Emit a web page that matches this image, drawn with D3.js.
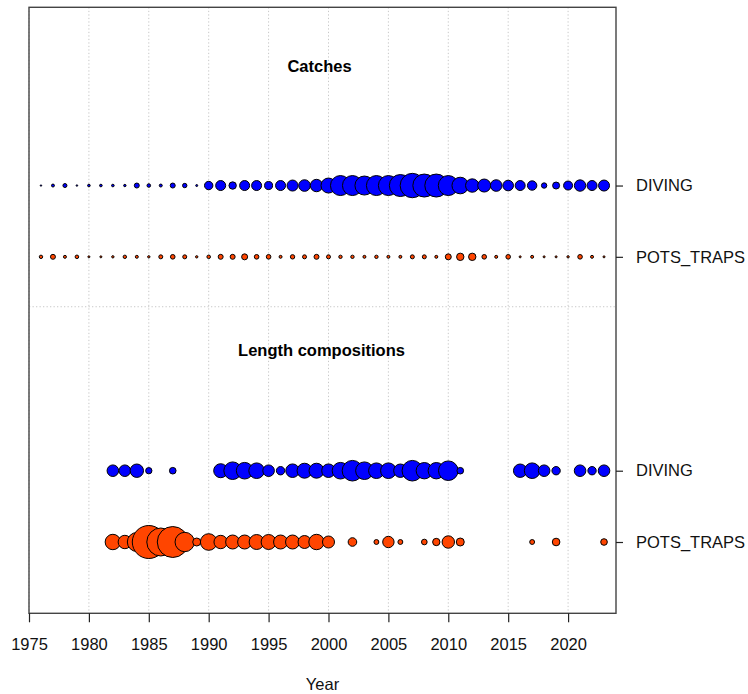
<!DOCTYPE html>
<html>
<head>
<meta charset="utf-8">
<script src="https://cdn.jsdelivr.net/npm/d3@7"></script>
<style>
  html, body { margin: 0; padding: 0; background: #fff; }
  svg { display: block; font-family: "Liberation Sans", Arial, sans-serif; }
</style>
</head>
<body>
<svg id="chart" width="748" height="694"></svg>
<script>
// ---------------- DATA ----------------
const fleets = ["DIVING", "POTS_TRAPS"];
const tickYears = [1975, 1980, 1985, 1990, 1995, 2000, 2005, 2010, 2015, 2020];

const catchYears = d3.range(1976, 2024);
const catchDiving = [5, 22, 40, 6, 17, 17, 17, 14, 62, 32, 22, 62, 48, 10,
  176, 250, 137, 250, 250, 160, 250, 302, 336, 384,
  562, 1000, 1000, 902, 1000, 1000, 1210, 1488, 1322, 1322, 1000, 689, 449, 422, 336, 281,
  250, 221, 73, 122, 202, 325, 250, 302];
const catchPots = [29, 62, 22, 32, 10, 10, 14, 29, 22, 14, 40, 53, 40, 14,
  32, 62, 62, 90, 53, 53, 22, 48, 40, 62,
  40, 29, 29, 22, 29, 22, 22, 40, 40, 22, 90, 137, 137, 53, 22, 53,
  10, 22, 10, 10, 14, 53, 22, 10];

const lenDivingYears = [1982, 1983, 1984, 1985, 1987, 1991, 1992, 1993, 1994, 1995, 1996, 1997, 1998, 1999,
  2000, 2001, 2002, 2003, 2004, 2005, 2006, 2007, 2008, 2009, 2010, 2011, 2016, 2017, 2018, 2019, 2021, 2022, 2023];
const lenDivingN = [67, 67, 90, 20, 22, 98, 155, 138, 122, 67, 35, 92, 112, 112,
  92, 138, 212, 155, 122, 122, 90, 212, 134, 134, 192, 22, 90, 122, 67, 35, 67, 35, 67];

const lenPotsYears = [1982, 1983, 1984, 1985, 1986, 1987, 1988, 1989, 1990, 1991, 1992, 1993, 1994, 1995,
  1996, 1997, 1998, 1999, 2000, 2002, 2004, 2005, 2006, 2008, 2009, 2010, 2011, 2017, 2019, 2023];
const lenPotsN = [119, 90, 180, 545, 392, 480, 188, 32, 138, 90, 98, 98, 112, 112,
  98, 98, 84, 119, 72, 37, 12, 65, 12, 16, 27, 77, 32, 12, 29, 22];

// ---------------- LAYOUT ----------------
const svg = d3.select("#chart");
const L = 29, R = 616, T = 7.3, B = 613.3;
const x = d3.scaleLinear().domain([1975, 2024]).range([L, R]);
const y = d3.scaleLinear().domain([0, 8.5]).range([B, T]);
const colors = { DIVING: "#0000ff", POTS_TRAPS: "#ff4500" };

const catchR = d3.scaleSqrt().domain([0, d3.max(catchDiving.concat(catchPots))]).range([0, 12.2]);
const lenR = d3.scaleSqrt().domain([0, d3.max(lenDivingN.concat(lenPotsN))]).range([0, 16.5]);

const rows = [
  { fleet: "DIVING", pos: 6, years: catchYears, vals: catchDiving, rs: catchR },
  { fleet: "POTS_TRAPS", pos: 5, years: catchYears, vals: catchPots, rs: catchR },
  { fleet: "DIVING", pos: 2, years: lenDivingYears, vals: lenDivingN, rs: lenR },
  { fleet: "POTS_TRAPS", pos: 1, years: lenPotsYears, vals: lenPotsN, rs: lenR }
];

// grid
svg.append("g").selectAll("line").data(tickYears).join("line")
  .attr("x1", d => x(d)).attr("x2", d => x(d))
  .attr("y1", T).attr("y2", B)
  .attr("stroke", "#c8c8c8").attr("stroke-width", 1).attr("stroke-dasharray", "1.3,2.2");
svg.append("line")
  .attr("x1", L).attr("x2", R).attr("y1", y(4.3)).attr("y2", y(4.3))
  .attr("stroke", "#c8c8c8").attr("stroke-width", 1).attr("stroke-dasharray", "1.3,2.2");

// titles
svg.append("text").attr("x", (L + R) / 2 - 3).attr("y", y(7.68)).attr("dy", "0.35em")
  .attr("text-anchor", "middle").attr("font-weight", "bold").attr("font-size", 16.5)
  .attr("fill", "#000").text("Catches");
svg.append("text").attr("x", (L + R) / 2 - 1).attr("y", y(3.69)).attr("dy", "0.35em")
  .attr("text-anchor", "middle").attr("font-weight", "bold").attr("font-size", 16.5)
  .attr("fill", "#000").text("Length compositions");

// bubbles
rows.forEach(row => {
  const pts = row.years.map((yr, i) => ({ yr, v: row.vals[i] }));
  svg.append("g").selectAll("circle").data(pts).join("circle")
    .attr("cx", d => x(d.yr))
    .attr("cy", y(row.pos))
    .attr("r", d => row.rs(d.v))
    .attr("fill", colors[row.fleet])
    .attr("stroke", "#000").attr("stroke-width", 1);
});

// box
svg.append("rect").attr("x", L).attr("y", T).attr("width", R - L).attr("height", B - T)
  .attr("fill", "none").attr("stroke", "#444").attr("stroke-width", 1.4);

// bottom axis
const xAxis = d3.axisBottom(x).tickValues(tickYears).tickFormat(d3.format("d")).tickSizeOuter(0).tickSize(9).tickPadding(16);
const gx = svg.append("g").attr("transform", `translate(0,${B})`).call(xAxis);
gx.select(".domain").remove();
gx.selectAll(".tick line").attr("stroke", "#222").attr("stroke-width", 1.2);
gx.selectAll(".tick text").attr("font-size", 16.5).attr("fill", "#111").attr("font-family", "Liberation Sans, Arial, sans-serif");

// right axis
const yAxis = d3.axisRight(y).tickValues(rows.map(r => r.pos))
  .tickFormat(d => rows.find(r => r.pos === d).fleet).tickSize(7).tickPadding(13).tickSizeOuter(0);
const gy = svg.append("g").attr("transform", `translate(${R},0)`).call(yAxis);
gy.select(".domain").remove();
gy.selectAll(".tick line").attr("stroke", "#222").attr("stroke-width", 1.2);
gy.selectAll(".tick text").attr("font-size", 16.5).attr("fill", "#111").attr("font-family", "Liberation Sans, Arial, sans-serif");

// x label
svg.append("text").attr("x", (L + R) / 2).attr("y", 690)
  .attr("text-anchor", "middle").attr("font-size", 16.5).attr("fill", "#111").text("Year");
</script>
</body>
</html>
